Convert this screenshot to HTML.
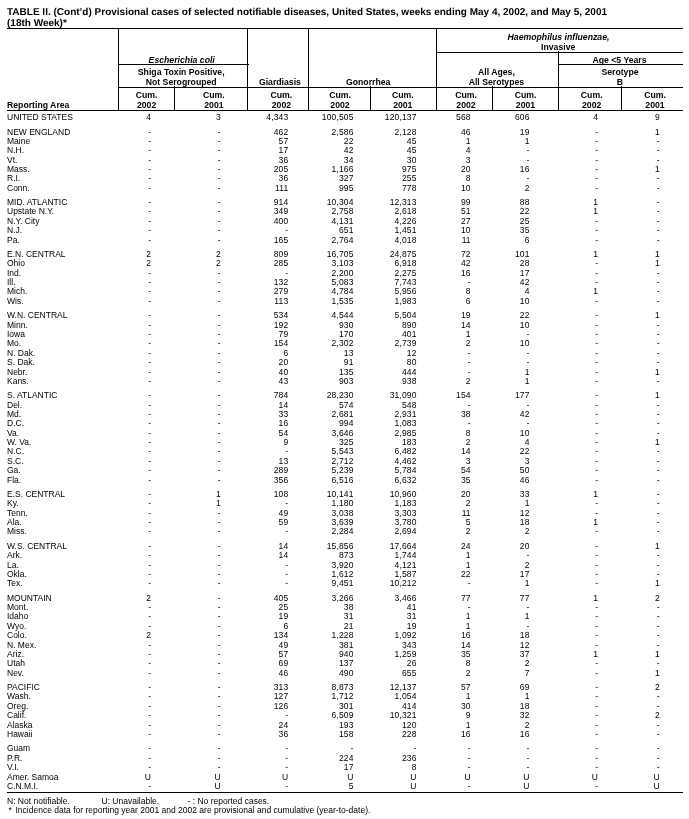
<!DOCTYPE html><html><head><meta charset="utf-8"><style>
html,body{margin:0;padding:0;background:#fff;}
body{width:689px;height:819px;position:relative;overflow:hidden;font-family:"Liberation Sans",sans-serif;color:#000;}
#w{position:absolute;left:0;top:0;width:689px;height:819px;background:#fff;will-change:transform;}
.t{position:absolute;white-space:nowrap;line-height:12px;height:12px;}
.d{font-size:8.5px;}
.r{text-align:right;width:60px;letter-spacing:0.15px;}
.c{text-align:center;width:200px;}
.h{font-size:8.7px;font-weight:bold;color:#000;}
.i{font-style:italic;}
.ti{font-size:10.0px;font-weight:bold;color:#000;text-rendering:geometricPrecision;letter-spacing:0px}
.hl{position:absolute;height:1px;background:#000;}
.vl{position:absolute;width:1px;background:#000;}
</style></head><body><div id="w">
<div class="t ti" style="left:7px;top:6.54px;">TABLE II. (Cont&rsquo;d) Provisional cases of selected notifiable diseases, United States, weeks ending May 4, 2002, and May 5, 2001</div>
<div class="t ti" style="left:7px;top:17.54px;">(18th Week)*</div>
<div class="hl" style="left:7px;width:676px;top:28px;height:1px"></div>
<div class="hl" style="left:118px;width:131px;top:64px;height:1px"></div>
<div class="hl" style="left:436px;width:247px;top:52px;height:1px"></div>
<div class="hl" style="left:558px;width:125px;top:64px;height:1px"></div>
<div class="hl" style="left:118px;width:565px;top:87px;height:1px"></div>
<div class="hl" style="left:7px;width:676px;top:110px;height:1px"></div>
<div class="hl" style="left:7px;width:676px;top:792px;height:1px"></div>
<div class="vl" style="left:118px;top:28px;height:83px"></div>
<div class="vl" style="left:174px;top:86px;height:25px"></div>
<div class="vl" style="left:247px;top:28px;height:83px"></div>
<div class="vl" style="left:308px;top:28px;height:83px"></div>
<div class="vl" style="left:370px;top:86px;height:25px"></div>
<div class="vl" style="left:436px;top:28px;height:83px"></div>
<div class="vl" style="left:492px;top:86px;height:25px"></div>
<div class="vl" style="left:558px;top:51px;height:60px"></div>
<div class="vl" style="left:621px;top:86px;height:25px"></div>
<div class="t c h i" style="left:81.70px;top:53.99px;">Escherichia coli</div>
<div class="t c h" style="left:81.20px;top:65.99px;">Shiga Toxin Positive,</div>
<div class="t c h" style="left:81.20px;top:75.99px;">Not Serogrouped</div>
<div class="t c h" style="left:179.90px;top:75.99px;">Giardiasis</div>
<div class="t c h" style="left:268.20px;top:75.99px;">Gonorrhea</div>
<div class="t c h" style="left:458.50px;top:30.99px;"><i>Haemophilus influenzae,</i></div>
<div class="t c h" style="left:458.20px;top:40.99px;">Invasive</div>
<div class="t c h" style="left:519.50px;top:53.99px;">Age &lt;5 Years</div>
<div class="t c h" style="left:396.40px;top:65.99px;">All Ages,</div>
<div class="t c h" style="left:396.40px;top:75.99px;">All Serotypes</div>
<div class="t c h" style="left:520.00px;top:65.99px;">Serotype</div>
<div class="t c h" style="left:520.00px;top:75.99px;">B</div>
<div class="t c h" style="left:46.60px;top:88.99px;">Cum.</div>
<div class="t c h" style="left:46.60px;top:98.99px;">2002</div>
<div class="t c h" style="left:113.90px;top:88.99px;">Cum.</div>
<div class="t c h" style="left:113.90px;top:98.99px;">2001</div>
<div class="t c h" style="left:181.40px;top:88.99px;">Cum.</div>
<div class="t c h" style="left:181.40px;top:98.99px;">2002</div>
<div class="t c h" style="left:240.00px;top:88.99px;">Cum.</div>
<div class="t c h" style="left:240.00px;top:98.99px;">2002</div>
<div class="t c h" style="left:302.80px;top:88.99px;">Cum.</div>
<div class="t c h" style="left:302.80px;top:98.99px;">2001</div>
<div class="t c h" style="left:366.00px;top:88.99px;">Cum.</div>
<div class="t c h" style="left:366.00px;top:98.99px;">2002</div>
<div class="t c h" style="left:425.50px;top:88.99px;">Cum.</div>
<div class="t c h" style="left:425.50px;top:98.99px;">2001</div>
<div class="t c h" style="left:491.70px;top:88.99px;">Cum.</div>
<div class="t c h" style="left:491.70px;top:98.99px;">2002</div>
<div class="t c h" style="left:555.00px;top:88.99px;">Cum.</div>
<div class="t c h" style="left:555.00px;top:98.99px;">2001</div>
<div class="t h" style="left:7px;top:98.99px;">Reporting Area</div>
<div class="t d" style="left:7px;top:111.05px;">UNITED STATES</div>
<div class="t d r" style="left:91.15px;top:111.05px;">4</div>
<div class="t d r" style="left:160.85px;top:111.05px;">3</div>
<div class="t d r" style="left:228.35px;top:111.05px;">4,343</div>
<div class="t d r" style="left:293.55px;top:111.05px;">100,505</div>
<div class="t d r" style="left:356.55px;top:111.05px;">120,137</div>
<div class="t d r" style="left:410.75px;top:111.05px;">568</div>
<div class="t d r" style="left:469.55px;top:111.05px;">606</div>
<div class="t d r" style="left:538.15px;top:111.05px;">4</div>
<div class="t d r" style="left:599.85px;top:111.05px;">9</div>
<div class="t d" style="left:7px;top:126.05px;">NEW ENGLAND</div>
<div class="t d r" style="left:91.15px;top:126.05px;">-</div>
<div class="t d r" style="left:160.85px;top:126.05px;">-</div>
<div class="t d r" style="left:228.35px;top:126.05px;">462</div>
<div class="t d r" style="left:293.55px;top:126.05px;">2,586</div>
<div class="t d r" style="left:356.55px;top:126.05px;">2,128</div>
<div class="t d r" style="left:410.75px;top:126.05px;">46</div>
<div class="t d r" style="left:469.55px;top:126.05px;">19</div>
<div class="t d r" style="left:538.15px;top:126.05px;">-</div>
<div class="t d r" style="left:599.85px;top:126.05px;">1</div>
<div class="t d" style="left:7px;top:135.05px;">Maine</div>
<div class="t d r" style="left:91.15px;top:135.05px;">-</div>
<div class="t d r" style="left:160.85px;top:135.05px;">-</div>
<div class="t d r" style="left:228.35px;top:135.05px;">57</div>
<div class="t d r" style="left:293.55px;top:135.05px;">22</div>
<div class="t d r" style="left:356.55px;top:135.05px;">45</div>
<div class="t d r" style="left:410.75px;top:135.05px;">1</div>
<div class="t d r" style="left:469.55px;top:135.05px;">1</div>
<div class="t d r" style="left:538.15px;top:135.05px;">-</div>
<div class="t d r" style="left:599.85px;top:135.05px;">-</div>
<div class="t d" style="left:7px;top:144.05px;">N.H.</div>
<div class="t d r" style="left:91.15px;top:144.05px;">-</div>
<div class="t d r" style="left:160.85px;top:144.05px;">-</div>
<div class="t d r" style="left:228.35px;top:144.05px;">17</div>
<div class="t d r" style="left:293.55px;top:144.05px;">42</div>
<div class="t d r" style="left:356.55px;top:144.05px;">45</div>
<div class="t d r" style="left:410.75px;top:144.05px;">4</div>
<div class="t d r" style="left:469.55px;top:144.05px;">-</div>
<div class="t d r" style="left:538.15px;top:144.05px;">-</div>
<div class="t d r" style="left:599.85px;top:144.05px;">-</div>
<div class="t d" style="left:7px;top:154.05px;">Vt.</div>
<div class="t d r" style="left:91.15px;top:154.05px;">-</div>
<div class="t d r" style="left:160.85px;top:154.05px;">-</div>
<div class="t d r" style="left:228.35px;top:154.05px;">36</div>
<div class="t d r" style="left:293.55px;top:154.05px;">34</div>
<div class="t d r" style="left:356.55px;top:154.05px;">30</div>
<div class="t d r" style="left:410.75px;top:154.05px;">3</div>
<div class="t d r" style="left:469.55px;top:154.05px;">-</div>
<div class="t d r" style="left:538.15px;top:154.05px;">-</div>
<div class="t d r" style="left:599.85px;top:154.05px;">-</div>
<div class="t d" style="left:7px;top:163.05px;">Mass.</div>
<div class="t d r" style="left:91.15px;top:163.05px;">-</div>
<div class="t d r" style="left:160.85px;top:163.05px;">-</div>
<div class="t d r" style="left:228.35px;top:163.05px;">205</div>
<div class="t d r" style="left:293.55px;top:163.05px;">1,166</div>
<div class="t d r" style="left:356.55px;top:163.05px;">975</div>
<div class="t d r" style="left:410.75px;top:163.05px;">20</div>
<div class="t d r" style="left:469.55px;top:163.05px;">16</div>
<div class="t d r" style="left:538.15px;top:163.05px;">-</div>
<div class="t d r" style="left:599.85px;top:163.05px;">1</div>
<div class="t d" style="left:7px;top:172.05px;">R.I.</div>
<div class="t d r" style="left:91.15px;top:172.05px;">-</div>
<div class="t d r" style="left:160.85px;top:172.05px;">-</div>
<div class="t d r" style="left:228.35px;top:172.05px;">36</div>
<div class="t d r" style="left:293.55px;top:172.05px;">327</div>
<div class="t d r" style="left:356.55px;top:172.05px;">255</div>
<div class="t d r" style="left:410.75px;top:172.05px;">8</div>
<div class="t d r" style="left:469.55px;top:172.05px;">-</div>
<div class="t d r" style="left:538.15px;top:172.05px;">-</div>
<div class="t d r" style="left:599.85px;top:172.05px;">-</div>
<div class="t d" style="left:7px;top:182.05px;">Conn.</div>
<div class="t d r" style="left:91.15px;top:182.05px;">-</div>
<div class="t d r" style="left:160.85px;top:182.05px;">-</div>
<div class="t d r" style="left:228.35px;top:182.05px;">111</div>
<div class="t d r" style="left:293.55px;top:182.05px;">995</div>
<div class="t d r" style="left:356.55px;top:182.05px;">778</div>
<div class="t d r" style="left:410.75px;top:182.05px;">10</div>
<div class="t d r" style="left:469.55px;top:182.05px;">2</div>
<div class="t d r" style="left:538.15px;top:182.05px;">-</div>
<div class="t d r" style="left:599.85px;top:182.05px;">-</div>
<div class="t d" style="left:7px;top:196.05px;">MID. ATLANTIC</div>
<div class="t d r" style="left:91.15px;top:196.05px;">-</div>
<div class="t d r" style="left:160.85px;top:196.05px;">-</div>
<div class="t d r" style="left:228.35px;top:196.05px;">914</div>
<div class="t d r" style="left:293.55px;top:196.05px;">10,304</div>
<div class="t d r" style="left:356.55px;top:196.05px;">12,313</div>
<div class="t d r" style="left:410.75px;top:196.05px;">99</div>
<div class="t d r" style="left:469.55px;top:196.05px;">88</div>
<div class="t d r" style="left:538.15px;top:196.05px;">1</div>
<div class="t d r" style="left:599.85px;top:196.05px;">-</div>
<div class="t d" style="left:7px;top:205.05px;">Upstate N.Y.</div>
<div class="t d r" style="left:91.15px;top:205.05px;">-</div>
<div class="t d r" style="left:160.85px;top:205.05px;">-</div>
<div class="t d r" style="left:228.35px;top:205.05px;">349</div>
<div class="t d r" style="left:293.55px;top:205.05px;">2,758</div>
<div class="t d r" style="left:356.55px;top:205.05px;">2,618</div>
<div class="t d r" style="left:410.75px;top:205.05px;">51</div>
<div class="t d r" style="left:469.55px;top:205.05px;">22</div>
<div class="t d r" style="left:538.15px;top:205.05px;">1</div>
<div class="t d r" style="left:599.85px;top:205.05px;">-</div>
<div class="t d" style="left:7px;top:215.05px;">N.Y. City</div>
<div class="t d r" style="left:91.15px;top:215.05px;">-</div>
<div class="t d r" style="left:160.85px;top:215.05px;">-</div>
<div class="t d r" style="left:228.35px;top:215.05px;">400</div>
<div class="t d r" style="left:293.55px;top:215.05px;">4,131</div>
<div class="t d r" style="left:356.55px;top:215.05px;">4,226</div>
<div class="t d r" style="left:410.75px;top:215.05px;">27</div>
<div class="t d r" style="left:469.55px;top:215.05px;">25</div>
<div class="t d r" style="left:538.15px;top:215.05px;">-</div>
<div class="t d r" style="left:599.85px;top:215.05px;">-</div>
<div class="t d" style="left:7px;top:224.05px;">N.J.</div>
<div class="t d r" style="left:91.15px;top:224.05px;">-</div>
<div class="t d r" style="left:160.85px;top:224.05px;">-</div>
<div class="t d r" style="left:228.35px;top:224.05px;">-</div>
<div class="t d r" style="left:293.55px;top:224.05px;">651</div>
<div class="t d r" style="left:356.55px;top:224.05px;">1,451</div>
<div class="t d r" style="left:410.75px;top:224.05px;">10</div>
<div class="t d r" style="left:469.55px;top:224.05px;">35</div>
<div class="t d r" style="left:538.15px;top:224.05px;">-</div>
<div class="t d r" style="left:599.85px;top:224.05px;">-</div>
<div class="t d" style="left:7px;top:234.05px;">Pa.</div>
<div class="t d r" style="left:91.15px;top:234.05px;">-</div>
<div class="t d r" style="left:160.85px;top:234.05px;">-</div>
<div class="t d r" style="left:228.35px;top:234.05px;">165</div>
<div class="t d r" style="left:293.55px;top:234.05px;">2,764</div>
<div class="t d r" style="left:356.55px;top:234.05px;">4,018</div>
<div class="t d r" style="left:410.75px;top:234.05px;">11</div>
<div class="t d r" style="left:469.55px;top:234.05px;">6</div>
<div class="t d r" style="left:538.15px;top:234.05px;">-</div>
<div class="t d r" style="left:599.85px;top:234.05px;">-</div>
<div class="t d" style="left:7px;top:248.05px;">E.N. CENTRAL</div>
<div class="t d r" style="left:91.15px;top:248.05px;">2</div>
<div class="t d r" style="left:160.85px;top:248.05px;">2</div>
<div class="t d r" style="left:228.35px;top:248.05px;">809</div>
<div class="t d r" style="left:293.55px;top:248.05px;">16,705</div>
<div class="t d r" style="left:356.55px;top:248.05px;">24,875</div>
<div class="t d r" style="left:410.75px;top:248.05px;">72</div>
<div class="t d r" style="left:469.55px;top:248.05px;">101</div>
<div class="t d r" style="left:538.15px;top:248.05px;">1</div>
<div class="t d r" style="left:599.85px;top:248.05px;">1</div>
<div class="t d" style="left:7px;top:257.05px;">Ohio</div>
<div class="t d r" style="left:91.15px;top:257.05px;">2</div>
<div class="t d r" style="left:160.85px;top:257.05px;">2</div>
<div class="t d r" style="left:228.35px;top:257.05px;">285</div>
<div class="t d r" style="left:293.55px;top:257.05px;">3,103</div>
<div class="t d r" style="left:356.55px;top:257.05px;">6,918</div>
<div class="t d r" style="left:410.75px;top:257.05px;">42</div>
<div class="t d r" style="left:469.55px;top:257.05px;">28</div>
<div class="t d r" style="left:538.15px;top:257.05px;">-</div>
<div class="t d r" style="left:599.85px;top:257.05px;">1</div>
<div class="t d" style="left:7px;top:267.05px;">Ind.</div>
<div class="t d r" style="left:91.15px;top:267.05px;">-</div>
<div class="t d r" style="left:160.85px;top:267.05px;">-</div>
<div class="t d r" style="left:228.35px;top:267.05px;">-</div>
<div class="t d r" style="left:293.55px;top:267.05px;">2,200</div>
<div class="t d r" style="left:356.55px;top:267.05px;">2,275</div>
<div class="t d r" style="left:410.75px;top:267.05px;">16</div>
<div class="t d r" style="left:469.55px;top:267.05px;">17</div>
<div class="t d r" style="left:538.15px;top:267.05px;">-</div>
<div class="t d r" style="left:599.85px;top:267.05px;">-</div>
<div class="t d" style="left:7px;top:276.05px;">Ill.</div>
<div class="t d r" style="left:91.15px;top:276.05px;">-</div>
<div class="t d r" style="left:160.85px;top:276.05px;">-</div>
<div class="t d r" style="left:228.35px;top:276.05px;">132</div>
<div class="t d r" style="left:293.55px;top:276.05px;">5,083</div>
<div class="t d r" style="left:356.55px;top:276.05px;">7,743</div>
<div class="t d r" style="left:410.75px;top:276.05px;">-</div>
<div class="t d r" style="left:469.55px;top:276.05px;">42</div>
<div class="t d r" style="left:538.15px;top:276.05px;">-</div>
<div class="t d r" style="left:599.85px;top:276.05px;">-</div>
<div class="t d" style="left:7px;top:285.05px;">Mich.</div>
<div class="t d r" style="left:91.15px;top:285.05px;">-</div>
<div class="t d r" style="left:160.85px;top:285.05px;">-</div>
<div class="t d r" style="left:228.35px;top:285.05px;">279</div>
<div class="t d r" style="left:293.55px;top:285.05px;">4,784</div>
<div class="t d r" style="left:356.55px;top:285.05px;">5,956</div>
<div class="t d r" style="left:410.75px;top:285.05px;">8</div>
<div class="t d r" style="left:469.55px;top:285.05px;">4</div>
<div class="t d r" style="left:538.15px;top:285.05px;">1</div>
<div class="t d r" style="left:599.85px;top:285.05px;">-</div>
<div class="t d" style="left:7px;top:295.05px;">Wis.</div>
<div class="t d r" style="left:91.15px;top:295.05px;">-</div>
<div class="t d r" style="left:160.85px;top:295.05px;">-</div>
<div class="t d r" style="left:228.35px;top:295.05px;">113</div>
<div class="t d r" style="left:293.55px;top:295.05px;">1,535</div>
<div class="t d r" style="left:356.55px;top:295.05px;">1,983</div>
<div class="t d r" style="left:410.75px;top:295.05px;">6</div>
<div class="t d r" style="left:469.55px;top:295.05px;">10</div>
<div class="t d r" style="left:538.15px;top:295.05px;">-</div>
<div class="t d r" style="left:599.85px;top:295.05px;">-</div>
<div class="t d" style="left:7px;top:309.05px;">W.N. CENTRAL</div>
<div class="t d r" style="left:91.15px;top:309.05px;">-</div>
<div class="t d r" style="left:160.85px;top:309.05px;">-</div>
<div class="t d r" style="left:228.35px;top:309.05px;">534</div>
<div class="t d r" style="left:293.55px;top:309.05px;">4,544</div>
<div class="t d r" style="left:356.55px;top:309.05px;">5,504</div>
<div class="t d r" style="left:410.75px;top:309.05px;">19</div>
<div class="t d r" style="left:469.55px;top:309.05px;">22</div>
<div class="t d r" style="left:538.15px;top:309.05px;">-</div>
<div class="t d r" style="left:599.85px;top:309.05px;">1</div>
<div class="t d" style="left:7px;top:319.05px;">Minn.</div>
<div class="t d r" style="left:91.15px;top:319.05px;">-</div>
<div class="t d r" style="left:160.85px;top:319.05px;">-</div>
<div class="t d r" style="left:228.35px;top:319.05px;">192</div>
<div class="t d r" style="left:293.55px;top:319.05px;">930</div>
<div class="t d r" style="left:356.55px;top:319.05px;">890</div>
<div class="t d r" style="left:410.75px;top:319.05px;">14</div>
<div class="t d r" style="left:469.55px;top:319.05px;">10</div>
<div class="t d r" style="left:538.15px;top:319.05px;">-</div>
<div class="t d r" style="left:599.85px;top:319.05px;">-</div>
<div class="t d" style="left:7px;top:328.05px;">Iowa</div>
<div class="t d r" style="left:91.15px;top:328.05px;">-</div>
<div class="t d r" style="left:160.85px;top:328.05px;">-</div>
<div class="t d r" style="left:228.35px;top:328.05px;">79</div>
<div class="t d r" style="left:293.55px;top:328.05px;">170</div>
<div class="t d r" style="left:356.55px;top:328.05px;">401</div>
<div class="t d r" style="left:410.75px;top:328.05px;">1</div>
<div class="t d r" style="left:469.55px;top:328.05px;">-</div>
<div class="t d r" style="left:538.15px;top:328.05px;">-</div>
<div class="t d r" style="left:599.85px;top:328.05px;">-</div>
<div class="t d" style="left:7px;top:337.05px;">Mo.</div>
<div class="t d r" style="left:91.15px;top:337.05px;">-</div>
<div class="t d r" style="left:160.85px;top:337.05px;">-</div>
<div class="t d r" style="left:228.35px;top:337.05px;">154</div>
<div class="t d r" style="left:293.55px;top:337.05px;">2,302</div>
<div class="t d r" style="left:356.55px;top:337.05px;">2,739</div>
<div class="t d r" style="left:410.75px;top:337.05px;">2</div>
<div class="t d r" style="left:469.55px;top:337.05px;">10</div>
<div class="t d r" style="left:538.15px;top:337.05px;">-</div>
<div class="t d r" style="left:599.85px;top:337.05px;">-</div>
<div class="t d" style="left:7px;top:347.05px;">N. Dak.</div>
<div class="t d r" style="left:91.15px;top:347.05px;">-</div>
<div class="t d r" style="left:160.85px;top:347.05px;">-</div>
<div class="t d r" style="left:228.35px;top:347.05px;">6</div>
<div class="t d r" style="left:293.55px;top:347.05px;">13</div>
<div class="t d r" style="left:356.55px;top:347.05px;">12</div>
<div class="t d r" style="left:410.75px;top:347.05px;">-</div>
<div class="t d r" style="left:469.55px;top:347.05px;">-</div>
<div class="t d r" style="left:538.15px;top:347.05px;">-</div>
<div class="t d r" style="left:599.85px;top:347.05px;">-</div>
<div class="t d" style="left:7px;top:356.05px;">S. Dak.</div>
<div class="t d r" style="left:91.15px;top:356.05px;">-</div>
<div class="t d r" style="left:160.85px;top:356.05px;">-</div>
<div class="t d r" style="left:228.35px;top:356.05px;">20</div>
<div class="t d r" style="left:293.55px;top:356.05px;">91</div>
<div class="t d r" style="left:356.55px;top:356.05px;">80</div>
<div class="t d r" style="left:410.75px;top:356.05px;">-</div>
<div class="t d r" style="left:469.55px;top:356.05px;">-</div>
<div class="t d r" style="left:538.15px;top:356.05px;">-</div>
<div class="t d r" style="left:599.85px;top:356.05px;">-</div>
<div class="t d" style="left:7px;top:366.05px;">Nebr.</div>
<div class="t d r" style="left:91.15px;top:366.05px;">-</div>
<div class="t d r" style="left:160.85px;top:366.05px;">-</div>
<div class="t d r" style="left:228.35px;top:366.05px;">40</div>
<div class="t d r" style="left:293.55px;top:366.05px;">135</div>
<div class="t d r" style="left:356.55px;top:366.05px;">444</div>
<div class="t d r" style="left:410.75px;top:366.05px;">-</div>
<div class="t d r" style="left:469.55px;top:366.05px;">1</div>
<div class="t d r" style="left:538.15px;top:366.05px;">-</div>
<div class="t d r" style="left:599.85px;top:366.05px;">1</div>
<div class="t d" style="left:7px;top:375.05px;">Kans.</div>
<div class="t d r" style="left:91.15px;top:375.05px;">-</div>
<div class="t d r" style="left:160.85px;top:375.05px;">-</div>
<div class="t d r" style="left:228.35px;top:375.05px;">43</div>
<div class="t d r" style="left:293.55px;top:375.05px;">903</div>
<div class="t d r" style="left:356.55px;top:375.05px;">938</div>
<div class="t d r" style="left:410.75px;top:375.05px;">2</div>
<div class="t d r" style="left:469.55px;top:375.05px;">1</div>
<div class="t d r" style="left:538.15px;top:375.05px;">-</div>
<div class="t d r" style="left:599.85px;top:375.05px;">-</div>
<div class="t d" style="left:7px;top:389.05px;">S. ATLANTIC</div>
<div class="t d r" style="left:91.15px;top:389.05px;">-</div>
<div class="t d r" style="left:160.85px;top:389.05px;">-</div>
<div class="t d r" style="left:228.35px;top:389.05px;">784</div>
<div class="t d r" style="left:293.55px;top:389.05px;">28,230</div>
<div class="t d r" style="left:356.55px;top:389.05px;">31,090</div>
<div class="t d r" style="left:410.75px;top:389.05px;">154</div>
<div class="t d r" style="left:469.55px;top:389.05px;">177</div>
<div class="t d r" style="left:538.15px;top:389.05px;">-</div>
<div class="t d r" style="left:599.85px;top:389.05px;">1</div>
<div class="t d" style="left:7px;top:399.05px;">Del.</div>
<div class="t d r" style="left:91.15px;top:399.05px;">-</div>
<div class="t d r" style="left:160.85px;top:399.05px;">-</div>
<div class="t d r" style="left:228.35px;top:399.05px;">14</div>
<div class="t d r" style="left:293.55px;top:399.05px;">574</div>
<div class="t d r" style="left:356.55px;top:399.05px;">548</div>
<div class="t d r" style="left:410.75px;top:399.05px;">-</div>
<div class="t d r" style="left:469.55px;top:399.05px;">-</div>
<div class="t d r" style="left:538.15px;top:399.05px;">-</div>
<div class="t d r" style="left:599.85px;top:399.05px;">-</div>
<div class="t d" style="left:7px;top:408.05px;">Md.</div>
<div class="t d r" style="left:91.15px;top:408.05px;">-</div>
<div class="t d r" style="left:160.85px;top:408.05px;">-</div>
<div class="t d r" style="left:228.35px;top:408.05px;">33</div>
<div class="t d r" style="left:293.55px;top:408.05px;">2,681</div>
<div class="t d r" style="left:356.55px;top:408.05px;">2,931</div>
<div class="t d r" style="left:410.75px;top:408.05px;">38</div>
<div class="t d r" style="left:469.55px;top:408.05px;">42</div>
<div class="t d r" style="left:538.15px;top:408.05px;">-</div>
<div class="t d r" style="left:599.85px;top:408.05px;">-</div>
<div class="t d" style="left:7px;top:417.05px;">D.C.</div>
<div class="t d r" style="left:91.15px;top:417.05px;">-</div>
<div class="t d r" style="left:160.85px;top:417.05px;">-</div>
<div class="t d r" style="left:228.35px;top:417.05px;">16</div>
<div class="t d r" style="left:293.55px;top:417.05px;">994</div>
<div class="t d r" style="left:356.55px;top:417.05px;">1,083</div>
<div class="t d r" style="left:410.75px;top:417.05px;">-</div>
<div class="t d r" style="left:469.55px;top:417.05px;">-</div>
<div class="t d r" style="left:538.15px;top:417.05px;">-</div>
<div class="t d r" style="left:599.85px;top:417.05px;">-</div>
<div class="t d" style="left:7px;top:427.05px;">Va.</div>
<div class="t d r" style="left:91.15px;top:427.05px;">-</div>
<div class="t d r" style="left:160.85px;top:427.05px;">-</div>
<div class="t d r" style="left:228.35px;top:427.05px;">54</div>
<div class="t d r" style="left:293.55px;top:427.05px;">3,646</div>
<div class="t d r" style="left:356.55px;top:427.05px;">2,985</div>
<div class="t d r" style="left:410.75px;top:427.05px;">8</div>
<div class="t d r" style="left:469.55px;top:427.05px;">10</div>
<div class="t d r" style="left:538.15px;top:427.05px;">-</div>
<div class="t d r" style="left:599.85px;top:427.05px;">-</div>
<div class="t d" style="left:7px;top:436.05px;">W. Va.</div>
<div class="t d r" style="left:91.15px;top:436.05px;">-</div>
<div class="t d r" style="left:160.85px;top:436.05px;">-</div>
<div class="t d r" style="left:228.35px;top:436.05px;">9</div>
<div class="t d r" style="left:293.55px;top:436.05px;">325</div>
<div class="t d r" style="left:356.55px;top:436.05px;">183</div>
<div class="t d r" style="left:410.75px;top:436.05px;">2</div>
<div class="t d r" style="left:469.55px;top:436.05px;">4</div>
<div class="t d r" style="left:538.15px;top:436.05px;">-</div>
<div class="t d r" style="left:599.85px;top:436.05px;">1</div>
<div class="t d" style="left:7px;top:445.05px;">N.C.</div>
<div class="t d r" style="left:91.15px;top:445.05px;">-</div>
<div class="t d r" style="left:160.85px;top:445.05px;">-</div>
<div class="t d r" style="left:228.35px;top:445.05px;">-</div>
<div class="t d r" style="left:293.55px;top:445.05px;">5,543</div>
<div class="t d r" style="left:356.55px;top:445.05px;">6,482</div>
<div class="t d r" style="left:410.75px;top:445.05px;">14</div>
<div class="t d r" style="left:469.55px;top:445.05px;">22</div>
<div class="t d r" style="left:538.15px;top:445.05px;">-</div>
<div class="t d r" style="left:599.85px;top:445.05px;">-</div>
<div class="t d" style="left:7px;top:455.05px;">S.C.</div>
<div class="t d r" style="left:91.15px;top:455.05px;">-</div>
<div class="t d r" style="left:160.85px;top:455.05px;">-</div>
<div class="t d r" style="left:228.35px;top:455.05px;">13</div>
<div class="t d r" style="left:293.55px;top:455.05px;">2,712</div>
<div class="t d r" style="left:356.55px;top:455.05px;">4,462</div>
<div class="t d r" style="left:410.75px;top:455.05px;">3</div>
<div class="t d r" style="left:469.55px;top:455.05px;">3</div>
<div class="t d r" style="left:538.15px;top:455.05px;">-</div>
<div class="t d r" style="left:599.85px;top:455.05px;">-</div>
<div class="t d" style="left:7px;top:464.05px;">Ga.</div>
<div class="t d r" style="left:91.15px;top:464.05px;">-</div>
<div class="t d r" style="left:160.85px;top:464.05px;">-</div>
<div class="t d r" style="left:228.35px;top:464.05px;">289</div>
<div class="t d r" style="left:293.55px;top:464.05px;">5,239</div>
<div class="t d r" style="left:356.55px;top:464.05px;">5,784</div>
<div class="t d r" style="left:410.75px;top:464.05px;">54</div>
<div class="t d r" style="left:469.55px;top:464.05px;">50</div>
<div class="t d r" style="left:538.15px;top:464.05px;">-</div>
<div class="t d r" style="left:599.85px;top:464.05px;">-</div>
<div class="t d" style="left:7px;top:474.05px;">Fla.</div>
<div class="t d r" style="left:91.15px;top:474.05px;">-</div>
<div class="t d r" style="left:160.85px;top:474.05px;">-</div>
<div class="t d r" style="left:228.35px;top:474.05px;">356</div>
<div class="t d r" style="left:293.55px;top:474.05px;">6,516</div>
<div class="t d r" style="left:356.55px;top:474.05px;">6,632</div>
<div class="t d r" style="left:410.75px;top:474.05px;">35</div>
<div class="t d r" style="left:469.55px;top:474.05px;">46</div>
<div class="t d r" style="left:538.15px;top:474.05px;">-</div>
<div class="t d r" style="left:599.85px;top:474.05px;">-</div>
<div class="t d" style="left:7px;top:488.05px;">E.S. CENTRAL</div>
<div class="t d r" style="left:91.15px;top:488.05px;">-</div>
<div class="t d r" style="left:160.85px;top:488.05px;">1</div>
<div class="t d r" style="left:228.35px;top:488.05px;">108</div>
<div class="t d r" style="left:293.55px;top:488.05px;">10,141</div>
<div class="t d r" style="left:356.55px;top:488.05px;">10,960</div>
<div class="t d r" style="left:410.75px;top:488.05px;">20</div>
<div class="t d r" style="left:469.55px;top:488.05px;">33</div>
<div class="t d r" style="left:538.15px;top:488.05px;">1</div>
<div class="t d r" style="left:599.85px;top:488.05px;">-</div>
<div class="t d" style="left:7px;top:497.05px;">Ky.</div>
<div class="t d r" style="left:91.15px;top:497.05px;">-</div>
<div class="t d r" style="left:160.85px;top:497.05px;">1</div>
<div class="t d r" style="left:228.35px;top:497.05px;">-</div>
<div class="t d r" style="left:293.55px;top:497.05px;">1,180</div>
<div class="t d r" style="left:356.55px;top:497.05px;">1,183</div>
<div class="t d r" style="left:410.75px;top:497.05px;">2</div>
<div class="t d r" style="left:469.55px;top:497.05px;">1</div>
<div class="t d r" style="left:538.15px;top:497.05px;">-</div>
<div class="t d r" style="left:599.85px;top:497.05px;">-</div>
<div class="t d" style="left:7px;top:507.05px;">Tenn.</div>
<div class="t d r" style="left:91.15px;top:507.05px;">-</div>
<div class="t d r" style="left:160.85px;top:507.05px;">-</div>
<div class="t d r" style="left:228.35px;top:507.05px;">49</div>
<div class="t d r" style="left:293.55px;top:507.05px;">3,038</div>
<div class="t d r" style="left:356.55px;top:507.05px;">3,303</div>
<div class="t d r" style="left:410.75px;top:507.05px;">11</div>
<div class="t d r" style="left:469.55px;top:507.05px;">12</div>
<div class="t d r" style="left:538.15px;top:507.05px;">-</div>
<div class="t d r" style="left:599.85px;top:507.05px;">-</div>
<div class="t d" style="left:7px;top:516.05px;">Ala.</div>
<div class="t d r" style="left:91.15px;top:516.05px;">-</div>
<div class="t d r" style="left:160.85px;top:516.05px;">-</div>
<div class="t d r" style="left:228.35px;top:516.05px;">59</div>
<div class="t d r" style="left:293.55px;top:516.05px;">3,639</div>
<div class="t d r" style="left:356.55px;top:516.05px;">3,780</div>
<div class="t d r" style="left:410.75px;top:516.05px;">5</div>
<div class="t d r" style="left:469.55px;top:516.05px;">18</div>
<div class="t d r" style="left:538.15px;top:516.05px;">1</div>
<div class="t d r" style="left:599.85px;top:516.05px;">-</div>
<div class="t d" style="left:7px;top:525.05px;">Miss.</div>
<div class="t d r" style="left:91.15px;top:525.05px;">-</div>
<div class="t d r" style="left:160.85px;top:525.05px;">-</div>
<div class="t d r" style="left:228.35px;top:525.05px;">-</div>
<div class="t d r" style="left:293.55px;top:525.05px;">2,284</div>
<div class="t d r" style="left:356.55px;top:525.05px;">2,694</div>
<div class="t d r" style="left:410.75px;top:525.05px;">2</div>
<div class="t d r" style="left:469.55px;top:525.05px;">2</div>
<div class="t d r" style="left:538.15px;top:525.05px;">-</div>
<div class="t d r" style="left:599.85px;top:525.05px;">-</div>
<div class="t d" style="left:7px;top:540.05px;">W.S. CENTRAL</div>
<div class="t d r" style="left:91.15px;top:540.05px;">-</div>
<div class="t d r" style="left:160.85px;top:540.05px;">-</div>
<div class="t d r" style="left:228.35px;top:540.05px;">14</div>
<div class="t d r" style="left:293.55px;top:540.05px;">15,856</div>
<div class="t d r" style="left:356.55px;top:540.05px;">17,664</div>
<div class="t d r" style="left:410.75px;top:540.05px;">24</div>
<div class="t d r" style="left:469.55px;top:540.05px;">20</div>
<div class="t d r" style="left:538.15px;top:540.05px;">-</div>
<div class="t d r" style="left:599.85px;top:540.05px;">1</div>
<div class="t d" style="left:7px;top:549.05px;">Ark.</div>
<div class="t d r" style="left:91.15px;top:549.05px;">-</div>
<div class="t d r" style="left:160.85px;top:549.05px;">-</div>
<div class="t d r" style="left:228.35px;top:549.05px;">14</div>
<div class="t d r" style="left:293.55px;top:549.05px;">873</div>
<div class="t d r" style="left:356.55px;top:549.05px;">1,744</div>
<div class="t d r" style="left:410.75px;top:549.05px;">1</div>
<div class="t d r" style="left:469.55px;top:549.05px;">-</div>
<div class="t d r" style="left:538.15px;top:549.05px;">-</div>
<div class="t d r" style="left:599.85px;top:549.05px;">-</div>
<div class="t d" style="left:7px;top:559.05px;">La.</div>
<div class="t d r" style="left:91.15px;top:559.05px;">-</div>
<div class="t d r" style="left:160.85px;top:559.05px;">-</div>
<div class="t d r" style="left:228.35px;top:559.05px;">-</div>
<div class="t d r" style="left:293.55px;top:559.05px;">3,920</div>
<div class="t d r" style="left:356.55px;top:559.05px;">4,121</div>
<div class="t d r" style="left:410.75px;top:559.05px;">1</div>
<div class="t d r" style="left:469.55px;top:559.05px;">2</div>
<div class="t d r" style="left:538.15px;top:559.05px;">-</div>
<div class="t d r" style="left:599.85px;top:559.05px;">-</div>
<div class="t d" style="left:7px;top:568.05px;">Okla.</div>
<div class="t d r" style="left:91.15px;top:568.05px;">-</div>
<div class="t d r" style="left:160.85px;top:568.05px;">-</div>
<div class="t d r" style="left:228.35px;top:568.05px;">-</div>
<div class="t d r" style="left:293.55px;top:568.05px;">1,612</div>
<div class="t d r" style="left:356.55px;top:568.05px;">1,587</div>
<div class="t d r" style="left:410.75px;top:568.05px;">22</div>
<div class="t d r" style="left:469.55px;top:568.05px;">17</div>
<div class="t d r" style="left:538.15px;top:568.05px;">-</div>
<div class="t d r" style="left:599.85px;top:568.05px;">-</div>
<div class="t d" style="left:7px;top:577.05px;">Tex.</div>
<div class="t d r" style="left:91.15px;top:577.05px;">-</div>
<div class="t d r" style="left:160.85px;top:577.05px;">-</div>
<div class="t d r" style="left:228.35px;top:577.05px;">-</div>
<div class="t d r" style="left:293.55px;top:577.05px;">9,451</div>
<div class="t d r" style="left:356.55px;top:577.05px;">10,212</div>
<div class="t d r" style="left:410.75px;top:577.05px;">-</div>
<div class="t d r" style="left:469.55px;top:577.05px;">1</div>
<div class="t d r" style="left:538.15px;top:577.05px;">-</div>
<div class="t d r" style="left:599.85px;top:577.05px;">1</div>
<div class="t d" style="left:7px;top:592.05px;">MOUNTAIN</div>
<div class="t d r" style="left:91.15px;top:592.05px;">2</div>
<div class="t d r" style="left:160.85px;top:592.05px;">-</div>
<div class="t d r" style="left:228.35px;top:592.05px;">405</div>
<div class="t d r" style="left:293.55px;top:592.05px;">3,266</div>
<div class="t d r" style="left:356.55px;top:592.05px;">3,466</div>
<div class="t d r" style="left:410.75px;top:592.05px;">77</div>
<div class="t d r" style="left:469.55px;top:592.05px;">77</div>
<div class="t d r" style="left:538.15px;top:592.05px;">1</div>
<div class="t d r" style="left:599.85px;top:592.05px;">2</div>
<div class="t d" style="left:7px;top:601.05px;">Mont.</div>
<div class="t d r" style="left:91.15px;top:601.05px;">-</div>
<div class="t d r" style="left:160.85px;top:601.05px;">-</div>
<div class="t d r" style="left:228.35px;top:601.05px;">25</div>
<div class="t d r" style="left:293.55px;top:601.05px;">38</div>
<div class="t d r" style="left:356.55px;top:601.05px;">41</div>
<div class="t d r" style="left:410.75px;top:601.05px;">-</div>
<div class="t d r" style="left:469.55px;top:601.05px;">-</div>
<div class="t d r" style="left:538.15px;top:601.05px;">-</div>
<div class="t d r" style="left:599.85px;top:601.05px;">-</div>
<div class="t d" style="left:7px;top:610.05px;">Idaho</div>
<div class="t d r" style="left:91.15px;top:610.05px;">-</div>
<div class="t d r" style="left:160.85px;top:610.05px;">-</div>
<div class="t d r" style="left:228.35px;top:610.05px;">19</div>
<div class="t d r" style="left:293.55px;top:610.05px;">31</div>
<div class="t d r" style="left:356.55px;top:610.05px;">31</div>
<div class="t d r" style="left:410.75px;top:610.05px;">1</div>
<div class="t d r" style="left:469.55px;top:610.05px;">1</div>
<div class="t d r" style="left:538.15px;top:610.05px;">-</div>
<div class="t d r" style="left:599.85px;top:610.05px;">-</div>
<div class="t d" style="left:7px;top:620.05px;">Wyo.</div>
<div class="t d r" style="left:91.15px;top:620.05px;">-</div>
<div class="t d r" style="left:160.85px;top:620.05px;">-</div>
<div class="t d r" style="left:228.35px;top:620.05px;">6</div>
<div class="t d r" style="left:293.55px;top:620.05px;">21</div>
<div class="t d r" style="left:356.55px;top:620.05px;">19</div>
<div class="t d r" style="left:410.75px;top:620.05px;">1</div>
<div class="t d r" style="left:469.55px;top:620.05px;">-</div>
<div class="t d r" style="left:538.15px;top:620.05px;">-</div>
<div class="t d r" style="left:599.85px;top:620.05px;">-</div>
<div class="t d" style="left:7px;top:629.05px;">Colo.</div>
<div class="t d r" style="left:91.15px;top:629.05px;">2</div>
<div class="t d r" style="left:160.85px;top:629.05px;">-</div>
<div class="t d r" style="left:228.35px;top:629.05px;">134</div>
<div class="t d r" style="left:293.55px;top:629.05px;">1,228</div>
<div class="t d r" style="left:356.55px;top:629.05px;">1,092</div>
<div class="t d r" style="left:410.75px;top:629.05px;">16</div>
<div class="t d r" style="left:469.55px;top:629.05px;">18</div>
<div class="t d r" style="left:538.15px;top:629.05px;">-</div>
<div class="t d r" style="left:599.85px;top:629.05px;">-</div>
<div class="t d" style="left:7px;top:639.05px;">N. Mex.</div>
<div class="t d r" style="left:91.15px;top:639.05px;">-</div>
<div class="t d r" style="left:160.85px;top:639.05px;">-</div>
<div class="t d r" style="left:228.35px;top:639.05px;">49</div>
<div class="t d r" style="left:293.55px;top:639.05px;">381</div>
<div class="t d r" style="left:356.55px;top:639.05px;">343</div>
<div class="t d r" style="left:410.75px;top:639.05px;">14</div>
<div class="t d r" style="left:469.55px;top:639.05px;">12</div>
<div class="t d r" style="left:538.15px;top:639.05px;">-</div>
<div class="t d r" style="left:599.85px;top:639.05px;">-</div>
<div class="t d" style="left:7px;top:648.05px;">Ariz.</div>
<div class="t d r" style="left:91.15px;top:648.05px;">-</div>
<div class="t d r" style="left:160.85px;top:648.05px;">-</div>
<div class="t d r" style="left:228.35px;top:648.05px;">57</div>
<div class="t d r" style="left:293.55px;top:648.05px;">940</div>
<div class="t d r" style="left:356.55px;top:648.05px;">1,259</div>
<div class="t d r" style="left:410.75px;top:648.05px;">35</div>
<div class="t d r" style="left:469.55px;top:648.05px;">37</div>
<div class="t d r" style="left:538.15px;top:648.05px;">1</div>
<div class="t d r" style="left:599.85px;top:648.05px;">1</div>
<div class="t d" style="left:7px;top:657.05px;">Utah</div>
<div class="t d r" style="left:91.15px;top:657.05px;">-</div>
<div class="t d r" style="left:160.85px;top:657.05px;">-</div>
<div class="t d r" style="left:228.35px;top:657.05px;">69</div>
<div class="t d r" style="left:293.55px;top:657.05px;">137</div>
<div class="t d r" style="left:356.55px;top:657.05px;">26</div>
<div class="t d r" style="left:410.75px;top:657.05px;">8</div>
<div class="t d r" style="left:469.55px;top:657.05px;">2</div>
<div class="t d r" style="left:538.15px;top:657.05px;">-</div>
<div class="t d r" style="left:599.85px;top:657.05px;">-</div>
<div class="t d" style="left:7px;top:667.05px;">Nev.</div>
<div class="t d r" style="left:91.15px;top:667.05px;">-</div>
<div class="t d r" style="left:160.85px;top:667.05px;">-</div>
<div class="t d r" style="left:228.35px;top:667.05px;">46</div>
<div class="t d r" style="left:293.55px;top:667.05px;">490</div>
<div class="t d r" style="left:356.55px;top:667.05px;">655</div>
<div class="t d r" style="left:410.75px;top:667.05px;">2</div>
<div class="t d r" style="left:469.55px;top:667.05px;">7</div>
<div class="t d r" style="left:538.15px;top:667.05px;">-</div>
<div class="t d r" style="left:599.85px;top:667.05px;">1</div>
<div class="t d" style="left:7px;top:681.05px;">PACIFIC</div>
<div class="t d r" style="left:91.15px;top:681.05px;">-</div>
<div class="t d r" style="left:160.85px;top:681.05px;">-</div>
<div class="t d r" style="left:228.35px;top:681.05px;">313</div>
<div class="t d r" style="left:293.55px;top:681.05px;">8,873</div>
<div class="t d r" style="left:356.55px;top:681.05px;">12,137</div>
<div class="t d r" style="left:410.75px;top:681.05px;">57</div>
<div class="t d r" style="left:469.55px;top:681.05px;">69</div>
<div class="t d r" style="left:538.15px;top:681.05px;">-</div>
<div class="t d r" style="left:599.85px;top:681.05px;">2</div>
<div class="t d" style="left:7px;top:690.05px;">Wash.</div>
<div class="t d r" style="left:91.15px;top:690.05px;">-</div>
<div class="t d r" style="left:160.85px;top:690.05px;">-</div>
<div class="t d r" style="left:228.35px;top:690.05px;">127</div>
<div class="t d r" style="left:293.55px;top:690.05px;">1,712</div>
<div class="t d r" style="left:356.55px;top:690.05px;">1,054</div>
<div class="t d r" style="left:410.75px;top:690.05px;">1</div>
<div class="t d r" style="left:469.55px;top:690.05px;">1</div>
<div class="t d r" style="left:538.15px;top:690.05px;">-</div>
<div class="t d r" style="left:599.85px;top:690.05px;">-</div>
<div class="t d" style="left:7px;top:700.05px;">Oreg.</div>
<div class="t d r" style="left:91.15px;top:700.05px;">-</div>
<div class="t d r" style="left:160.85px;top:700.05px;">-</div>
<div class="t d r" style="left:228.35px;top:700.05px;">126</div>
<div class="t d r" style="left:293.55px;top:700.05px;">301</div>
<div class="t d r" style="left:356.55px;top:700.05px;">414</div>
<div class="t d r" style="left:410.75px;top:700.05px;">30</div>
<div class="t d r" style="left:469.55px;top:700.05px;">18</div>
<div class="t d r" style="left:538.15px;top:700.05px;">-</div>
<div class="t d r" style="left:599.85px;top:700.05px;">-</div>
<div class="t d" style="left:7px;top:709.05px;">Calif.</div>
<div class="t d r" style="left:91.15px;top:709.05px;">-</div>
<div class="t d r" style="left:160.85px;top:709.05px;">-</div>
<div class="t d r" style="left:228.35px;top:709.05px;">-</div>
<div class="t d r" style="left:293.55px;top:709.05px;">6,509</div>
<div class="t d r" style="left:356.55px;top:709.05px;">10,321</div>
<div class="t d r" style="left:410.75px;top:709.05px;">9</div>
<div class="t d r" style="left:469.55px;top:709.05px;">32</div>
<div class="t d r" style="left:538.15px;top:709.05px;">-</div>
<div class="t d r" style="left:599.85px;top:709.05px;">2</div>
<div class="t d" style="left:7px;top:719.05px;">Alaska</div>
<div class="t d r" style="left:91.15px;top:719.05px;">-</div>
<div class="t d r" style="left:160.85px;top:719.05px;">-</div>
<div class="t d r" style="left:228.35px;top:719.05px;">24</div>
<div class="t d r" style="left:293.55px;top:719.05px;">193</div>
<div class="t d r" style="left:356.55px;top:719.05px;">120</div>
<div class="t d r" style="left:410.75px;top:719.05px;">1</div>
<div class="t d r" style="left:469.55px;top:719.05px;">2</div>
<div class="t d r" style="left:538.15px;top:719.05px;">-</div>
<div class="t d r" style="left:599.85px;top:719.05px;">-</div>
<div class="t d" style="left:7px;top:728.05px;">Hawaii</div>
<div class="t d r" style="left:91.15px;top:728.05px;">-</div>
<div class="t d r" style="left:160.85px;top:728.05px;">-</div>
<div class="t d r" style="left:228.35px;top:728.05px;">36</div>
<div class="t d r" style="left:293.55px;top:728.05px;">158</div>
<div class="t d r" style="left:356.55px;top:728.05px;">228</div>
<div class="t d r" style="left:410.75px;top:728.05px;">16</div>
<div class="t d r" style="left:469.55px;top:728.05px;">16</div>
<div class="t d r" style="left:538.15px;top:728.05px;">-</div>
<div class="t d r" style="left:599.85px;top:728.05px;">-</div>
<div class="t d" style="left:7px;top:742.05px;">Guam</div>
<div class="t d r" style="left:91.15px;top:742.05px;">-</div>
<div class="t d r" style="left:160.85px;top:742.05px;">-</div>
<div class="t d r" style="left:228.35px;top:742.05px;">-</div>
<div class="t d r" style="left:293.55px;top:742.05px;">-</div>
<div class="t d r" style="left:356.55px;top:742.05px;">-</div>
<div class="t d r" style="left:410.75px;top:742.05px;">-</div>
<div class="t d r" style="left:469.55px;top:742.05px;">-</div>
<div class="t d r" style="left:538.15px;top:742.05px;">-</div>
<div class="t d r" style="left:599.85px;top:742.05px;">-</div>
<div class="t d" style="left:7px;top:752.05px;">P.R.</div>
<div class="t d r" style="left:91.15px;top:752.05px;">-</div>
<div class="t d r" style="left:160.85px;top:752.05px;">-</div>
<div class="t d r" style="left:228.35px;top:752.05px;">-</div>
<div class="t d r" style="left:293.55px;top:752.05px;">224</div>
<div class="t d r" style="left:356.55px;top:752.05px;">236</div>
<div class="t d r" style="left:410.75px;top:752.05px;">-</div>
<div class="t d r" style="left:469.55px;top:752.05px;">-</div>
<div class="t d r" style="left:538.15px;top:752.05px;">-</div>
<div class="t d r" style="left:599.85px;top:752.05px;">-</div>
<div class="t d" style="left:7px;top:761.05px;">V.I.</div>
<div class="t d r" style="left:91.15px;top:761.05px;">-</div>
<div class="t d r" style="left:160.85px;top:761.05px;">-</div>
<div class="t d r" style="left:228.35px;top:761.05px;">-</div>
<div class="t d r" style="left:293.55px;top:761.05px;">17</div>
<div class="t d r" style="left:356.55px;top:761.05px;">8</div>
<div class="t d r" style="left:410.75px;top:761.05px;">-</div>
<div class="t d r" style="left:469.55px;top:761.05px;">-</div>
<div class="t d r" style="left:538.15px;top:761.05px;">-</div>
<div class="t d r" style="left:599.85px;top:761.05px;">-</div>
<div class="t d" style="left:7px;top:771.05px;">Amer. Samoa</div>
<div class="t d r" style="left:91.15px;top:771.05px;">U</div>
<div class="t d r" style="left:160.85px;top:771.05px;">U</div>
<div class="t d r" style="left:228.35px;top:771.05px;">U</div>
<div class="t d r" style="left:293.55px;top:771.05px;">U</div>
<div class="t d r" style="left:356.55px;top:771.05px;">U</div>
<div class="t d r" style="left:410.75px;top:771.05px;">U</div>
<div class="t d r" style="left:469.55px;top:771.05px;">U</div>
<div class="t d r" style="left:538.15px;top:771.05px;">U</div>
<div class="t d r" style="left:599.85px;top:771.05px;">U</div>
<div class="t d" style="left:7px;top:780.05px;">C.N.M.I.</div>
<div class="t d r" style="left:91.15px;top:780.05px;">-</div>
<div class="t d r" style="left:160.85px;top:780.05px;">U</div>
<div class="t d r" style="left:228.35px;top:780.05px;">-</div>
<div class="t d r" style="left:293.55px;top:780.05px;">5</div>
<div class="t d r" style="left:356.55px;top:780.05px;">U</div>
<div class="t d r" style="left:410.75px;top:780.05px;">-</div>
<div class="t d r" style="left:469.55px;top:780.05px;">U</div>
<div class="t d r" style="left:538.15px;top:780.05px;">-</div>
<div class="t d r" style="left:599.85px;top:780.05px;">U</div>
<div class="t d" style="left:7px;top:795.05px;">N: Not notifiable.</div>
<div class="t d" style="left:101.5px;top:795.05px;">U: Unavailable.</div>
<div class="t d" style="left:187.5px;top:795.05px;">- : No reported cases.</div>
<div class="t d" style="left:8.5px;top:804.05px;">*</div>
<div class="t d" style="left:15.5px;top:804.05px;">Incidence data for reporting year 2001 and 2002 are provisional and cumulative (year-to-date).</div>
</div></body></html>
